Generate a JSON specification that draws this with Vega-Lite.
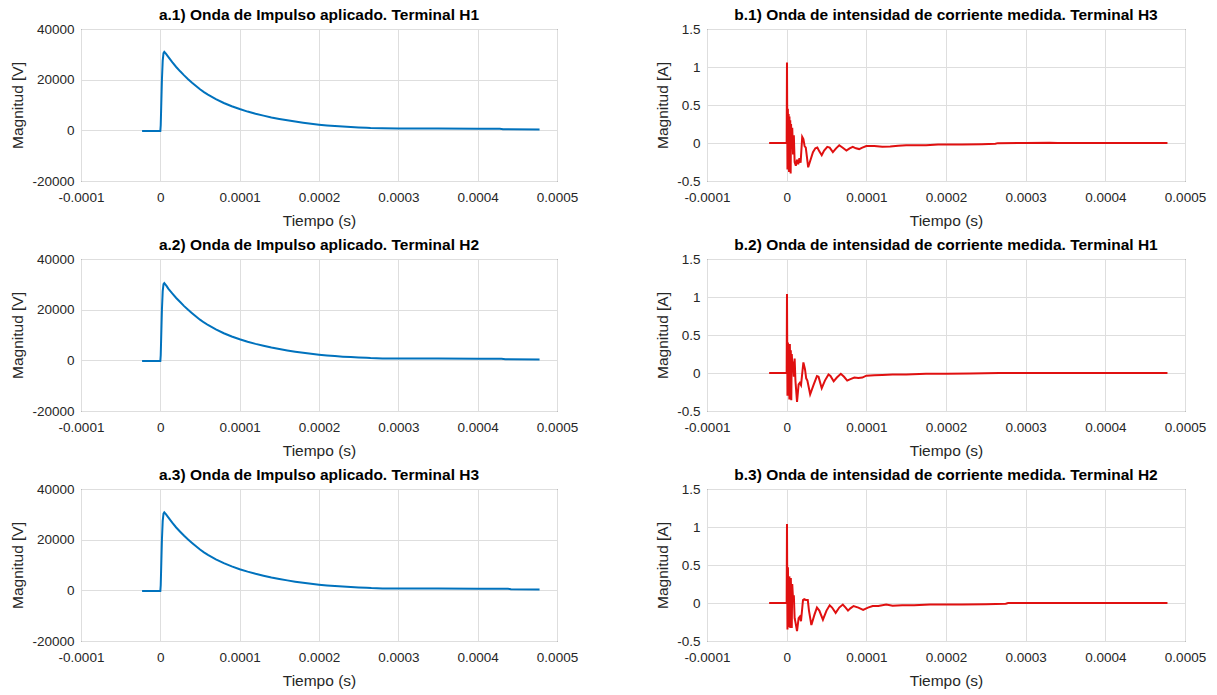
{
  "$schema": "https://vega.github.io/schema/vega-lite/v6.json",
  "background": "white",
  "padding": {"left": 10, "top": 7, "right": 5, "bottom": 5},
  "config": {
    "view": {"stroke": "#262626", "strokeWidth": 1},
    "font": "Liberation Sans",
    "axis": {
      "labelFont": "Liberation Sans", "labelFontSize": 13.5, "labelColor": "#262626",
      "titleFont": "Liberation Sans", "titleFontSize": 15.5, "titleFontWeight": "normal", "titleColor": "#262626",
      "gridColor": "#dedede", "gridOpacity": 1, "domain": false, "ticks": false,
      "labelFlush": false, "labelOverlap": false,
      "labelExpr": "replace(format(datum.value, '~g'), '\u2212', '-')"
    },
    "axisX": {"labelPadding": 9, "titlePadding": 10},
    "axisY": {"labelPadding": 7, "titlePadding": 6},
    "title": {"font": "Liberation Sans", "fontSize": 15.5, "fontWeight": "bold", "color": "#000000", "offset": -1, "anchor": "middle"}
  },
  "datasets": {
    "a1": [
      {"t": -2.3e-5, "v": -300}, {"t": 0, "v": -300}, {"t": 5e-7, "v": 2000}, {"t": 1e-6, "v": 8000}, {"t": 2e-6, "v": 20000}, {"t": 3e-6, "v": 27500}, {"t": 4e-6, "v": 30500}, {"t": 5e-6, "v": 31000}, {"t": 7e-6, "v": 30300}, {"t": 1e-5, "v": 29000}, {"t": 1.5e-5, "v": 26900}, {"t": 2e-5, "v": 25000}, {"t": 2.5e-5, "v": 23300}, {"t": 3e-5, "v": 21700}, {"t": 3.5e-5, "v": 20200}, {"t": 4e-5, "v": 18800}, {"t": 4.5e-5, "v": 17500}, {"t": 5e-5, "v": 16200}, {"t": 5.5e-5, "v": 15100}, {"t": 6e-5, "v": 14100}, {"t": 7e-5, "v": 12300}, {"t": 8e-5, "v": 10800}, {"t": 9e-5, "v": 9500}, {"t": 1e-4, "v": 8400}, {"t": 1.1e-4, "v": 7400}, {"t": 1.2e-4, "v": 6550}, {"t": 1.3e-4, "v": 5800}, {"t": 1.4e-4, "v": 5100}, {"t": 1.5e-4, "v": 4500}, {"t": 1.6e-4, "v": 3950}, {"t": 1.7e-4, "v": 3450}, {"t": 1.8e-4, "v": 3000}, {"t": 1.9e-4, "v": 2600}, {"t": 2e-4, "v": 2250}, {"t": 2.1e-4, "v": 1950}, {"t": 2.2e-4, "v": 1700}, {"t": 2.3e-4, "v": 1480}, {"t": 2.4e-4, "v": 1300}, {"t": 2.5e-4, "v": 1150}, {"t": 2.6e-4, "v": 1000}, {"t": 2.65e-4, "v": 900}, {"t": 2.8e-4, "v": 780}, {"t": 3e-4, "v": 720}, {"t": 3.5e-4, "v": 680}, {"t": 4e-4, "v": 660}, {"t": 4.28e-4, "v": 640}, {"t": 4.32e-4, "v": 420}, {"t": 4.78e-4, "v": 320}
    ],
    "a2": [
      {"t": -2.3e-5, "v": -300}, {"t": 0, "v": -300}, {"t": 5e-7, "v": 2000}, {"t": 1e-6, "v": 8000}, {"t": 2e-6, "v": 20000}, {"t": 3e-6, "v": 27300}, {"t": 4e-6, "v": 30100}, {"t": 5e-6, "v": 30500}, {"t": 8e-6, "v": 29300}, {"t": 1e-5, "v": 28300}, {"t": 1.5e-5, "v": 26400}, {"t": 2e-5, "v": 24600}, {"t": 2.5e-5, "v": 23000}, {"t": 3e-5, "v": 21400}, {"t": 3.5e-5, "v": 19950}, {"t": 4e-5, "v": 18600}, {"t": 4.5e-5, "v": 17300}, {"t": 5e-5, "v": 16050}, {"t": 5.5e-5, "v": 14950}, {"t": 6e-5, "v": 13950}, {"t": 7e-5, "v": 12200}, {"t": 8e-5, "v": 10700}, {"t": 9e-5, "v": 9400}, {"t": 1e-4, "v": 8300}, {"t": 1.1e-4, "v": 7350}, {"t": 1.2e-4, "v": 6500}, {"t": 1.3e-4, "v": 5750}, {"t": 1.4e-4, "v": 5050}, {"t": 1.5e-4, "v": 4450}, {"t": 1.6e-4, "v": 3900}, {"t": 1.7e-4, "v": 3400}, {"t": 1.8e-4, "v": 2960}, {"t": 1.9e-4, "v": 2570}, {"t": 2e-4, "v": 2230}, {"t": 2.1e-4, "v": 1930}, {"t": 2.2e-4, "v": 1680}, {"t": 2.3e-4, "v": 1460}, {"t": 2.4e-4, "v": 1280}, {"t": 2.5e-4, "v": 1130}, {"t": 2.6e-4, "v": 990}, {"t": 2.65e-4, "v": 890}, {"t": 2.8e-4, "v": 770}, {"t": 3e-4, "v": 710}, {"t": 3.5e-4, "v": 680}, {"t": 4e-4, "v": 660}, {"t": 4.3e-4, "v": 640}, {"t": 4.35e-4, "v": 420}, {"t": 4.78e-4, "v": 320}
    ],
    "a3": [
      {"t": -2.3e-5, "v": -300}, {"t": 0, "v": -300}, {"t": 5e-7, "v": 2000}, {"t": 1e-6, "v": 8000}, {"t": 2e-6, "v": 20000}, {"t": 3e-6, "v": 27400}, {"t": 4e-6, "v": 30300}, {"t": 5e-6, "v": 30800}, {"t": 7e-6, "v": 30100}, {"t": 1e-5, "v": 28800}, {"t": 1.5e-5, "v": 26700}, {"t": 2e-5, "v": 24800}, {"t": 2.5e-5, "v": 23150}, {"t": 3e-5, "v": 21550}, {"t": 3.5e-5, "v": 20050}, {"t": 4e-5, "v": 18700}, {"t": 4.5e-5, "v": 17400}, {"t": 5e-5, "v": 16100}, {"t": 5.5e-5, "v": 15000}, {"t": 6e-5, "v": 14000}, {"t": 7e-5, "v": 12250}, {"t": 8e-5, "v": 10750}, {"t": 9e-5, "v": 9450}, {"t": 1e-4, "v": 8350}, {"t": 1.1e-4, "v": 7380}, {"t": 1.2e-4, "v": 6520}, {"t": 1.3e-4, "v": 5780}, {"t": 1.4e-4, "v": 5080}, {"t": 1.5e-4, "v": 4480}, {"t": 1.6e-4, "v": 3930}, {"t": 1.7e-4, "v": 3430}, {"t": 1.8e-4, "v": 2980}, {"t": 1.9e-4, "v": 2590}, {"t": 2e-4, "v": 2240}, {"t": 2.1e-4, "v": 1940}, {"t": 2.2e-4, "v": 1690}, {"t": 2.3e-4, "v": 1470}, {"t": 2.4e-4, "v": 1290}, {"t": 2.5e-4, "v": 1140}, {"t": 2.6e-4, "v": 990}, {"t": 2.66e-4, "v": 890}, {"t": 2.8e-4, "v": 770}, {"t": 3e-4, "v": 715}, {"t": 3.5e-4, "v": 680}, {"t": 4e-4, "v": 660}, {"t": 4.38e-4, "v": 640}, {"t": 4.42e-4, "v": 420}, {"t": 4.78e-4, "v": 320}
    ],
    "b1": [
      {"t": -2.2e-5, "v": 0}, {"t": 0, "v": 0}, {"t": 4e-7, "v": 1.06}, {"t": 1.0e-6, "v": -0.35}, {"t": 1.5e-6, "v": 0.45}, {"t": 2.0e-6, "v": -0.05}, {"t": 2.5e-6, "v": 0.38}, {"t": 3.0e-6, "v": -0.38}, {"t": 3.5e-6, "v": 0.35}, {"t": 4.0e-6, "v": -0.1}, {"t": 4.5e-6, "v": 0.3}, {"t": 5.0e-6, "v": -0.4}, {"t": 5.5e-6, "v": 0.25}, {"t": 6.2e-6, "v": -0.05}, {"t": 7.0e-6, "v": 0.2}, {"t": 8.0e-6, "v": -0.15}, {"t": 9.0e-6, "v": 0.1}, {"t": 1.0e-5, "v": -0.25}, {"t": 1.15e-5, "v": -0.3}, {"t": 1.3e-5, "v": -0.22}, {"t": 1.45e-5, "v": -0.28}, {"t": 1.6e-5, "v": -0.2}, {"t": 1.75e-5, "v": -0.26}, {"t": 1.95e-5, "v": 0.08}, {"t": 2.1e-5, "v": 0.05}, {"t": 2.25e-5, "v": -0.04}, {"t": 2.4e-5, "v": -0.06}, {"t": 2.7e-5, "v": -0.32}, {"t": 3.0e-5, "v": -0.22}, {"t": 3.3e-5, "v": -0.12}, {"t": 3.6e-5, "v": -0.07}, {"t": 3.85e-5, "v": -0.06}, {"t": 4.1e-5, "v": -0.11}, {"t": 4.4e-5, "v": -0.16}, {"t": 4.7e-5, "v": -0.1}, {"t": 5.1e-5, "v": -0.05}, {"t": 5.4e-5, "v": -0.06}, {"t": 5.8e-5, "v": -0.12}, {"t": 6.2e-5, "v": -0.07}, {"t": 6.6e-5, "v": -0.03}, {"t": 7.0e-5, "v": -0.06}, {"t": 7.5e-5, "v": -0.1}, {"t": 7.9e-5, "v": -0.07}, {"t": 8.3e-5, "v": -0.05}, {"t": 8.7e-5, "v": -0.07}, {"t": 9.1e-5, "v": -0.08}, {"t": 9.5e-5, "v": -0.06}, {"t": 1.0e-4, "v": -0.04}, {"t": 1.1e-4, "v": -0.04}, {"t": 1.2e-4, "v": -0.05}, {"t": 1.3e-4, "v": -0.045}, {"t": 1.4e-4, "v": -0.035}, {"t": 1.5e-4, "v": -0.03}, {"t": 1.75e-4, "v": -0.03}, {"t": 1.9e-4, "v": -0.02}, {"t": 2.2e-4, "v": -0.02}, {"t": 2.45e-4, "v": -0.015}, {"t": 2.62e-4, "v": -0.01}, {"t": 2.65e-4, "v": -0.002}, {"t": 3.0e-4, "v": 0}, {"t": 3.3e-4, "v": 0.003}, {"t": 3.4e-4, "v": 0}, {"t": 4.78e-4, "v": 0}
    ],
    "b2": [
      {"t": -2.2e-5, "v": 0}, {"t": 0, "v": 0}, {"t": 4e-7, "v": 1.04}, {"t": 1.0e-6, "v": -0.3}, {"t": 1.6e-6, "v": 0.4}, {"t": 2.2e-6, "v": -0.1}, {"t": 2.8e-6, "v": 0.35}, {"t": 3.4e-6, "v": -0.35}, {"t": 4.0e-6, "v": 0.38}, {"t": 4.6e-6, "v": -0.1}, {"t": 5.2e-6, "v": 0.3}, {"t": 5.8e-6, "v": -0.36}, {"t": 6.4e-6, "v": 0.25}, {"t": 7.2e-6, "v": 0.1}, {"t": 8.0e-6, "v": 0.15}, {"t": 9.0e-6, "v": -0.05}, {"t": 1.0e-5, "v": 0.19}, {"t": 1.1e-5, "v": -0.1}, {"t": 1.3e-5, "v": -0.38}, {"t": 1.5e-5, "v": -0.15}, {"t": 1.65e-5, "v": -0.13}, {"t": 1.8e-5, "v": -0.16}, {"t": 2.1e-5, "v": 0.14}, {"t": 2.3e-5, "v": 0.05}, {"t": 2.45e-5, "v": -0.07}, {"t": 2.6e-5, "v": -0.1}, {"t": 2.95e-5, "v": -0.28}, {"t": 3.4e-5, "v": -0.15}, {"t": 3.8e-5, "v": -0.04}, {"t": 4.0e-5, "v": -0.05}, {"t": 4.4e-5, "v": -0.2}, {"t": 4.8e-5, "v": -0.1}, {"t": 5.25e-5, "v": -0.02}, {"t": 5.5e-5, "v": -0.04}, {"t": 5.9e-5, "v": -0.11}, {"t": 6.3e-5, "v": -0.06}, {"t": 6.8e-5, "v": -0.01}, {"t": 7.2e-5, "v": -0.05}, {"t": 7.6e-5, "v": -0.1}, {"t": 8.0e-5, "v": -0.08}, {"t": 8.5e-5, "v": -0.06}, {"t": 9.0e-5, "v": -0.065}, {"t": 9.5e-5, "v": -0.06}, {"t": 1.0e-4, "v": -0.035}, {"t": 1.1e-4, "v": -0.03}, {"t": 1.2e-4, "v": -0.025}, {"t": 1.33e-4, "v": -0.02}, {"t": 1.5e-4, "v": -0.02}, {"t": 1.75e-4, "v": -0.01}, {"t": 2.0e-4, "v": -0.01}, {"t": 2.3e-4, "v": -0.005}, {"t": 2.67e-4, "v": 0}, {"t": 4.78e-4, "v": 0}
    ],
    "b3": [
      {"t": -2.2e-5, "v": 0}, {"t": 0, "v": 0}, {"t": 4e-7, "v": 1.04}, {"t": 1.0e-6, "v": -0.35}, {"t": 1.6e-6, "v": 0.47}, {"t": 2.2e-6, "v": -0.1}, {"t": 2.8e-6, "v": -0.32}, {"t": 3.4e-6, "v": 0.35}, {"t": 4.0e-6, "v": 0.1}, {"t": 4.6e-6, "v": -0.33}, {"t": 5.2e-6, "v": 0.33}, {"t": 5.8e-6, "v": 0.05}, {"t": 6.4e-6, "v": -0.33}, {"t": 7.0e-6, "v": 0.25}, {"t": 8.0e-6, "v": 0.05}, {"t": 9.0e-6, "v": 0.1}, {"t": 1.0e-5, "v": -0.2}, {"t": 1.1e-5, "v": -0.25}, {"t": 1.3e-5, "v": -0.37}, {"t": 1.5e-5, "v": -0.2}, {"t": 1.65e-5, "v": -0.18}, {"t": 1.8e-5, "v": -0.24}, {"t": 2.05e-5, "v": 0.04}, {"t": 2.2e-5, "v": 0.05}, {"t": 2.4e-5, "v": 0.04}, {"t": 2.65e-5, "v": 0.04}, {"t": 2.8e-5, "v": -0.1}, {"t": 3.1e-5, "v": -0.29}, {"t": 3.5e-5, "v": -0.15}, {"t": 3.8e-5, "v": -0.06}, {"t": 4.1e-5, "v": -0.1}, {"t": 4.55e-5, "v": -0.22}, {"t": 5.0e-5, "v": -0.1}, {"t": 5.4e-5, "v": -0.03}, {"t": 5.7e-5, "v": -0.06}, {"t": 6.15e-5, "v": -0.13}, {"t": 6.6e-5, "v": -0.06}, {"t": 7.05e-5, "v": -0.02}, {"t": 7.4e-5, "v": -0.06}, {"t": 7.7e-5, "v": -0.1}, {"t": 8.0e-5, "v": -0.07}, {"t": 8.4e-5, "v": -0.04}, {"t": 9.0e-5, "v": -0.06}, {"t": 9.6e-5, "v": -0.09}, {"t": 1.02e-4, "v": -0.06}, {"t": 1.08e-4, "v": -0.04}, {"t": 1.15e-4, "v": -0.04}, {"t": 1.25e-4, "v": -0.02}, {"t": 1.33e-4, "v": -0.035}, {"t": 1.45e-4, "v": -0.03}, {"t": 1.6e-4, "v": -0.03}, {"t": 1.8e-4, "v": -0.02}, {"t": 2.2e-4, "v": -0.02}, {"t": 2.5e-4, "v": -0.015}, {"t": 2.75e-4, "v": -0.01}, {"t": 2.78e-4, "v": 0}, {"t": 4.78e-4, "v": 0}
    ]
  },
  "columns": 2,
  "spacing": {"row": 78, "column": 150},
  "bounds": "flush",
  "concat": [
    {"width": 476, "height": 152, "title": "a.1) Onda de Impulso aplicado. Terminal H1", "data": {"name": "a1"},
     "mark": {"type": "line", "color": "#0072BD", "strokeWidth": 2},
     "encoding": {
       "x": {"field": "t", "type": "quantitative", "title": "Tiempo (s)", "scale": {"domain": [-0.0001, 0.0005], "nice": false, "zero": false}, "axis": {"values": [-0.0001, 0, 0.0001, 0.0002, 0.0003, 0.0004, 0.0005]}},
       "y": {"field": "v", "type": "quantitative", "title": "Magnitud [V]", "scale": {"domain": [-20000, 40000], "nice": false, "zero": false}, "axis": {"values": [-20000, 0, 20000, 40000]}}
     }},
    {"width": 478, "height": 152, "title": "b.1) Onda de intensidad de corriente medida. Terminal H3", "data": {"name": "b1"},
     "mark": {"type": "line", "color": "#e01010", "strokeWidth": 2},
     "encoding": {
       "x": {"field": "t", "type": "quantitative", "title": "Tiempo (s)", "scale": {"domain": [-0.0001, 0.0005], "nice": false, "zero": false}, "axis": {"values": [-0.0001, 0, 0.0001, 0.0002, 0.0003, 0.0004, 0.0005]}},
       "y": {"field": "v", "type": "quantitative", "title": "Magnitud [A]", "scale": {"domain": [-0.5, 1.5], "nice": false, "zero": false}, "axis": {"values": [-0.5, 0, 0.5, 1, 1.5]}}
     }},
    {"width": 476, "height": 152, "title": "a.2) Onda de Impulso aplicado. Terminal H2", "data": {"name": "a2"},
     "mark": {"type": "line", "color": "#0072BD", "strokeWidth": 2},
     "encoding": {
       "x": {"field": "t", "type": "quantitative", "title": "Tiempo (s)", "scale": {"domain": [-0.0001, 0.0005], "nice": false, "zero": false}, "axis": {"values": [-0.0001, 0, 0.0001, 0.0002, 0.0003, 0.0004, 0.0005]}},
       "y": {"field": "v", "type": "quantitative", "title": "Magnitud [V]", "scale": {"domain": [-20000, 40000], "nice": false, "zero": false}, "axis": {"values": [-20000, 0, 20000, 40000]}}
     }},
    {"width": 478, "height": 152, "title": "b.2) Onda de intensidad de corriente medida. Terminal H1", "data": {"name": "b2"},
     "mark": {"type": "line", "color": "#e01010", "strokeWidth": 2},
     "encoding": {
       "x": {"field": "t", "type": "quantitative", "title": "Tiempo (s)", "scale": {"domain": [-0.0001, 0.0005], "nice": false, "zero": false}, "axis": {"values": [-0.0001, 0, 0.0001, 0.0002, 0.0003, 0.0004, 0.0005]}},
       "y": {"field": "v", "type": "quantitative", "title": "Magnitud [A]", "scale": {"domain": [-0.5, 1.5], "nice": false, "zero": false}, "axis": {"values": [-0.5, 0, 0.5, 1, 1.5]}}
     }},
    {"width": 476, "height": 152, "title": "a.3) Onda de Impulso aplicado. Terminal H3", "data": {"name": "a3"},
     "mark": {"type": "line", "color": "#0072BD", "strokeWidth": 2},
     "encoding": {
       "x": {"field": "t", "type": "quantitative", "title": "Tiempo (s)", "scale": {"domain": [-0.0001, 0.0005], "nice": false, "zero": false}, "axis": {"values": [-0.0001, 0, 0.0001, 0.0002, 0.0003, 0.0004, 0.0005]}},
       "y": {"field": "v", "type": "quantitative", "title": "Magnitud [V]", "scale": {"domain": [-20000, 40000], "nice": false, "zero": false}, "axis": {"values": [-20000, 0, 20000, 40000]}}
     }},
    {"width": 478, "height": 152, "title": "b.3) Onda de intensidad de corriente medida. Terminal H2", "data": {"name": "b3"},
     "mark": {"type": "line", "color": "#e01010", "strokeWidth": 2},
     "encoding": {
       "x": {"field": "t", "type": "quantitative", "title": "Tiempo (s)", "scale": {"domain": [-0.0001, 0.0005], "nice": false, "zero": false}, "axis": {"values": [-0.0001, 0, 0.0001, 0.0002, 0.0003, 0.0004, 0.0005]}},
       "y": {"field": "v", "type": "quantitative", "title": "Magnitud [A]", "scale": {"domain": [-0.5, 1.5], "nice": false, "zero": false}, "axis": {"values": [-0.5, 0, 0.5, 1, 1.5]}}
     }}
  ]
}
